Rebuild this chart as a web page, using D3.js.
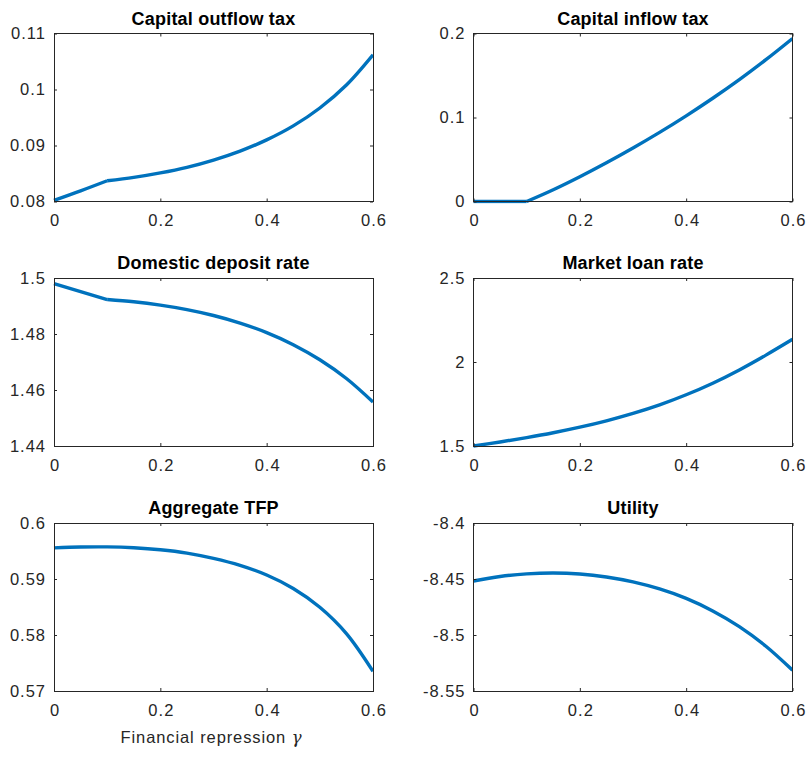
<!DOCTYPE html>
<html><head><meta charset="utf-8">
<script src="https://cdn.jsdelivr.net/npm/d3@7"></script>
<style>body{margin:0;background:#fff}svg{display:block}</style>
</head><body>
<svg id="c" width="807" height="757"></svg>
<script>
// ---- data ----
const gamma = [0,0.05,0.1,0.15,0.2,0.25,0.3,0.35,0.4,0.45,0.5,0.55,0.6];
const outflowTax   = [0.0802,0.0819,0.0837,0.0843,0.0851,0.0861,0.0874,0.0890,0.0910,0.0935,0.0967,0.1008,0.1062];
const inflowTax    = [0,0,0,0.0140,0.0295,0.0461,0.0637,0.0823,0.1020,0.1229,0.1451,0.1688,0.1940];
const depositRate  = [1.4980,1.4951,1.4923,1.4915,1.4903,1.4887,1.4866,1.4839,1.4805,1.4762,1.4708,1.4641,1.4557];
const loanRate     = [1.500,1.524,1.550,1.579,1.612,1.650,1.694,1.745,1.805,1.874,1.953,2.041,2.135];
const tfp          = [0.59556,0.59571,0.59573,0.59558,0.59523,0.59463,0.59368,0.59243,0.59071,0.58831,0.58496,0.58026,0.57352];
const utility      = [-8.4518,-8.4478,-8.4454,-8.4446,-8.4455,-8.4482,-8.4526,-8.4589,-8.4673,-8.4785,-8.4925,-8.5100,-8.5314];
const regimeSwitch = 0.1; // gamma where the inflow tax starts to bind

const xTicks = [0,0.2,0.4,0.6];
const ticksOutflow = [0.08,0.09,0.1,0.11];
const ticksInflow  = [0,0.1,0.2];
const ticksDeposit = [1.44,1.46,1.48,1.5];
const ticksLoan    = [1.5,2,2.5];
const ticksTfp     = [0.57,0.58,0.59,0.6];
const ticksUtility = [-8.55,-8.5,-8.45,-8.4];

const titles = ["Capital outflow tax","Capital inflow tax","Domestic deposit rate","Market loan rate","Aggregate TFP","Utility"];
const series = [outflowTax,inflowTax,depositRate,loanRate,tfp,utility];
const yTicks = [ticksOutflow,ticksInflow,ticksDeposit,ticksLoan,ticksTfp,ticksUtility];
const splitAtSwitch = [true,true,true,false,false,false];

// ---- layout ----
const colX = [54, 473.5], W = 319;
const rowY = [33.5, 278, 523], H = 168;
const axisColor = "#262626", lineColor = "#0072BD";
const font = "'Liberation Sans', Arial, Helvetica, sans-serif";

const svg = d3.select("#c");
svg.append("rect").attr("width",807).attr("height",757).attr("fill","#fff");

series.forEach((vals, i) => {
  const col = i % 2, row = Math.floor(i / 2);
  const g = svg.append("g").attr("transform", `translate(${colX[col]},${rowY[row]})`);
  const yt = yTicks[i];
  const x = d3.scaleLinear().domain([0,0.6]).range([0,W]);
  const y = d3.scaleLinear().domain([yt[0], yt[yt.length-1]]).range([H,0]);

  const pts = gamma.map((gm,k)=>[gm, vals[k]]);
  const segs = splitAtSwitch[i]
    ? [pts.filter(p=>p[0]<=regimeSwitch+1e-9), pts.filter(p=>p[0]>=regimeSwitch-1e-9)]
    : [pts];
  const line = d3.line().x(d=>x(d[0])).y(d=>y(d[1])).curve(d3.curveCatmullRom.alpha(0.5));
  g.append("clipPath").attr("id","clip"+i).append("rect").attr("x",-2).attr("y",-2).attr("width",W+2).attr("height",H+4);
  segs.forEach(s => {
    g.append("path").attr("d", line(s)).attr("fill","none")
      .attr("stroke", lineColor).attr("stroke-width", 3.4)
      .attr("stroke-linejoin","round").attr("stroke-linecap","butt")
      .attr("clip-path", `url(#clip${i})`);
  });

  const fmt = d => String(d);
  const styleAxis = (sel, labels) => {
    sel.select(".domain").remove();
    sel.selectAll(".tick line").attr("stroke", axisColor).attr("stroke-width", 1);
    sel.selectAll(".tick text").attr("fill", axisColor).style("font-family", font)
      .style("font-size","16.5px").style("letter-spacing","1px");
    if (!labels) sel.selectAll(".tick text").remove();
  };
  const bx = g.append("g").attr("transform",`translate(0,${H})`)
    .call(d3.axisBottom(x).tickValues(xTicks).tickFormat(fmt).tickSizeInner(-3).tickSizeOuter(0).tickPadding(13))
    .call(s=>styleAxis(s,true));
  bx.selectAll(".tick text").attr("dx","0.5px");
  g.append("g")
    .call(d3.axisTop(x).tickValues(xTicks).tickSizeInner(-3).tickSizeOuter(0))
    .call(s=>styleAxis(s,false));
  g.append("g")
    .call(d3.axisLeft(y).tickValues(yt).tickFormat(fmt).tickSizeInner(-3).tickSizeOuter(0).tickPadding(8))
    .call(s=>styleAxis(s,true));
  g.append("g").attr("transform",`translate(${W},0)`)
    .call(d3.axisRight(y).tickValues(yt).tickSizeInner(-3).tickSizeOuter(0))
    .call(s=>styleAxis(s,false));

  g.append("rect").attr("width",W).attr("height",H).attr("fill","none")
    .attr("stroke",axisColor).attr("stroke-width",1).attr("shape-rendering","crispEdges");

  g.append("text").attr("x", W/2).attr("y", -9).attr("text-anchor","middle")
    .style("font-family", font).style("font-size","18px").style("font-weight","bold")
    .style("letter-spacing","0.2px")
    .attr("fill","#000").text(titles[i]);

  if (i === 4) {
    const t = g.append("text").attr("x", W/2 - 2).attr("y", H+52).attr("text-anchor","middle")
      .style("font-family", font).style("font-size","16.5px").style("letter-spacing","0.9px").attr("fill", axisColor);
    t.append("tspan").text("Financial repression ");
    t.append("tspan").style("font-style","italic").style("font-family","'DejaVu Serif', serif").text("γ");
  }
});
</script>
</body></html>
